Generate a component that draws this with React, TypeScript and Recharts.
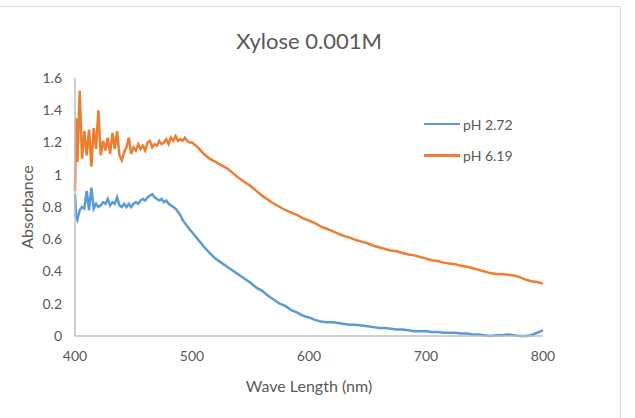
import { LineChart, Line, XAxis, YAxis } from 'recharts';

// Wavelength grid (nm): fine steps through the noisy blue end, coarser after 500
const wavelengths = [
  400, 401, 402, 404, 406, 408, 410, 412, 414, 416, 418, 420, 422, 424, 426, 428, 430,
  432, 434, 436, 438, 440, 442, 444, 446, 448, 450, 452, 454, 456, 458, 460, 462, 464,
  466, 468, 470, 472, 474, 476, 478, 480, 482, 484, 486, 488, 490, 492, 494, 496, 498,
  500, 505, 510, 515, 520, 525, 530, 535, 540, 545, 550, 555, 560, 565, 570, 575, 580,
  585, 590, 595, 600, 605, 610, 615, 620, 625, 630, 635, 640, 645, 650, 655, 660, 665,
  670, 675, 680, 685, 690, 695, 700, 705, 710, 715, 720, 725, 730, 735, 740, 745, 750,
  755, 760, 765, 770, 775, 780, 785, 790, 795, 800,
];

// Absorbance at pH 2.72
const absPh272 = [
  0.88, 0.74, 0.72, 0.78, 0.8, 0.79, 0.9, 0.78, 0.92, 0.79, 0.82, 0.8, 0.81, 0.83, 0.82, 0.85, 0.81,
  0.83, 0.82, 0.86, 0.81, 0.8, 0.82, 0.8, 0.82, 0.8, 0.82, 0.83, 0.82, 0.84, 0.85, 0.84, 0.86, 0.87,
  0.88, 0.86, 0.85, 0.84, 0.85, 0.83, 0.84, 0.82, 0.81, 0.8, 0.79, 0.77, 0.75, 0.72, 0.7, 0.68, 0.66,
  0.645, 0.6, 0.555, 0.515, 0.48, 0.455, 0.43, 0.405, 0.38, 0.355, 0.33, 0.3, 0.28, 0.25, 0.225, 0.2, 0.185,
  0.16, 0.145, 0.125, 0.115, 0.1, 0.09, 0.085, 0.085, 0.08, 0.075, 0.07, 0.07, 0.065, 0.06, 0.055, 0.05, 0.05,
  0.045, 0.04, 0.04, 0.035, 0.03, 0.03, 0.03, 0.025, 0.025, 0.02, 0.02, 0.02, 0.015, 0.015, 0.01, 0.01, 0.005,
  0.0, 0.005, 0.005, 0.01, 0.005, 0.0, 0.0, 0.005, 0.02, 0.035,
];

// Absorbance at pH 6.19
const absPh619 = [
  0.9, 1.35, 1.08, 1.52, 1.1, 1.27, 1.12, 1.28, 1.05, 1.29, 1.16, 1.4, 1.12, 1.21, 1.15, 1.23, 1.13,
  1.26, 1.16, 1.27, 1.12, 1.09, 1.14, 1.17, 1.23, 1.13, 1.17, 1.15, 1.19, 1.16, 1.18, 1.15, 1.2, 1.21,
  1.17, 1.19, 1.18, 1.21, 1.19, 1.2, 1.22, 1.19, 1.23, 1.21, 1.24, 1.21, 1.22, 1.21, 1.23, 1.21, 1.2,
  1.2, 1.17, 1.13, 1.1, 1.08, 1.06, 1.04, 1.01, 0.98, 0.955, 0.93, 0.9, 0.87, 0.845, 0.82, 0.8, 0.78,
  0.765, 0.75, 0.73, 0.715, 0.7, 0.68, 0.665, 0.65, 0.635, 0.62, 0.61, 0.595, 0.585, 0.575, 0.56, 0.55, 0.54,
  0.53, 0.525, 0.515, 0.505, 0.5, 0.49, 0.48, 0.47, 0.465, 0.455, 0.45, 0.445, 0.435, 0.43, 0.42, 0.41, 0.4,
  0.39, 0.385, 0.385, 0.38, 0.375, 0.365, 0.35, 0.34, 0.335, 0.325,
];

const xTicks = [400, 500, 600, 700, 800];
const yTicks = [0, 0.2, 0.4, 0.6, 0.8, 1, 1.2, 1.4, 1.6];

const seriesNames = ['pH 2.72', 'pH 6.19'];
const seriesColors = ['#5B9BD5', '#ED7D31'];

const FONT = 'Lato, "Open Sans", sans-serif';
const TEXT = '#595959';
const AXIS = '#BFBFBF';

const data = wavelengths.map((wl, i) => ({
  wl,
  low: absPh272[i],
  high: absPh619[i],
}));

const App = () => {
  return (
    <div
      style={{
        position: 'absolute',
        left: 0,
        top: 0,
        width: 635,
        height: 418,
        background: '#fff',
        fontFamily: FONT,
        overflow: 'hidden',
      }}
    >
      {/* chart frame: only the top and right edges fall inside the view */}
      <div
        style={{
          position: 'absolute',
          left: 0,
          top: 6,
          width: 620,
          height: 420,
          borderTop: '1.5px solid #D9D9D9',
          borderRight: '1.5px solid #D9D9D9',
        }}
      />

      <div
        style={{
          position: 'absolute',
          left: 0,
          width: 618,
          top: 30,
          textAlign: 'center',
          fontSize: 22,
          lineHeight: '22px',
          color: TEXT,
        }}
      >
        Xylose 0.001M
      </div>

      <LineChart
        width={635}
        height={418}
        data={data}
        margin={{ top: 78, right: 92, bottom: 52, left: 0 }}
        style={{ position: 'absolute', left: 0, top: 0 }}
      >
        <XAxis
          dataKey="wl"
          type="number"
          domain={[400, 800]}
          ticks={xTicks}
          height={30}
          tickLine={false}
          tickSize={0}
          tickMargin={15}
          axisLine={{ stroke: AXIS, strokeWidth: 1.5 }}
          tick={{ fill: TEXT, fontSize: 14, fontFamily: FONT }}
          label={{
            value: 'Wave Length (nm)',
            position: 'bottom',
            offset: 15,
            style: { fill: TEXT, fontSize: 16, fontFamily: FONT },
          }}
        />
        <YAxis
          type="number"
          domain={[0, 1.6]}
          ticks={yTicks}
          width={75}
          tickLine={false}
          tickSize={0}
          tickMargin={13}
          axisLine={{ stroke: AXIS, strokeWidth: 1.5 }}
          tick={{ fill: TEXT, fontSize: 14, fontFamily: FONT }}
          label={{
            value: 'Absorbance',
            angle: -90,
            position: 'insideLeft',
            offset: 27,
            style: { textAnchor: 'middle', fill: TEXT, fontSize: 16, fontFamily: FONT },
          }}
        />
        <Line
          type="linear"
          dataKey="low"
          stroke={seriesColors[0]}
          strokeWidth={2.5}
          dot={false}
          isAnimationActive={false}
          name={seriesNames[0]}
        />
        <Line
          type="linear"
          dataKey="high"
          stroke={seriesColors[1]}
          strokeWidth={2.5}
          dot={false}
          isAnimationActive={false}
          name={seriesNames[1]}
        />
      </LineChart>

      {/* legend, stacked to the right of the curves */}
      {seriesNames.map((name, i) => (
        <div
          key={name}
          style={{
            position: 'absolute',
            left: 424,
            top: 116 + i * 31.5,
            height: 16,
            display: 'flex',
            alignItems: 'center',
            fontSize: 14,
            color: TEXT,
          }}
        >
          <span
            style={{
              display: 'inline-block',
              width: 36,
              height: 2.5,
              background: seriesColors[i],
              marginRight: 3,
            }}
          />
          <span>{name}</span>
        </div>
      ))}
    </div>
  );
};

export default App;
